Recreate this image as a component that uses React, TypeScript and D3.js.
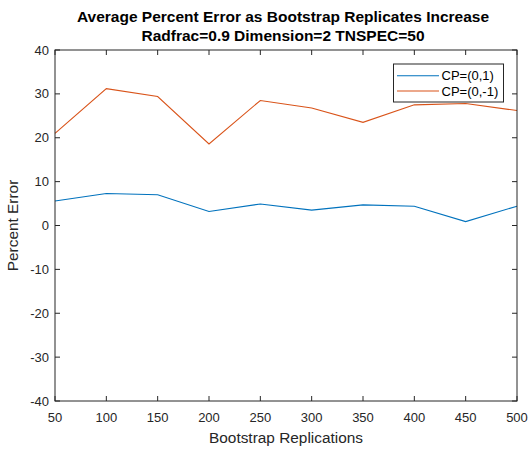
import React from "react";
import * as d3 from "d3";

const replications = [50, 100, 150, 200, 250, 300, 350, 400, 450, 500];
const cpPos = [5.6, 7.3, 7.0, 3.2, 4.9, 3.5, 4.7, 4.4, 0.9, 4.4];
const cpNeg = [21.0, 31.2, 29.4, 18.6, 28.5, 26.8, 23.5, 27.5, 27.8, 26.2];
const xTicks = [50, 100, 150, 200, 250, 300, 350, 400, 450, 500];
const yTicks = [-40, -30, -20, -10, 0, 10, 20, 30, 40];
const seriesNames = ["CP=(0,1)", "CP=(0,-1)"];
const seriesColors = ["#0072BD", "#D95319"];

const W = 531;
const H = 450;
const m = { left: 55, right: 517, top: 50, bottom: 401 };
const font = "'Liberation Sans', Arial, Helvetica, sans-serif";
const axisColor = "#262626";

export default function App() {
  const x = d3.scaleLinear().domain([50, 500]).range([m.left, m.right]);
  const y = d3.scaleLinear().domain([-40, 40]).range([m.bottom, m.top]);
  const line = d3
    .line<number>()
    .x((_, i) => x(replications[i]))
    .y((d) => y(d));
  const series = [cpPos, cpNeg];
  const tl = 5;
  const cx = (m.left + m.right) / 2;

  return (
    <svg
      width={W}
      height={H}
      style={{ position: "absolute", left: 0, top: 0, background: "#fff" }}
      fontFamily={font}
    >
      <rect x={0} y={0} width={W} height={H} fill="#fff" />
      {/* data lines */}
      {series.map((s, k) => (
        <path
          key={k}
          d={line(s) ?? ""}
          fill="none"
          stroke={seriesColors[k]}
          strokeWidth={1.1}
        />
      ))}
      {/* axes box with inward ticks on all four sides */}
      <rect
        x={m.left}
        y={m.top}
        width={m.right - m.left}
        height={m.bottom - m.top}
        fill="none"
        stroke={axisColor}
        strokeWidth={1}
      />
      {xTicks.map((t) => (
        <g key={"x" + t}>
          <line x1={x(t)} x2={x(t)} y1={m.bottom} y2={m.bottom - tl} stroke={axisColor} />
          <line x1={x(t)} x2={x(t)} y1={m.top} y2={m.top + tl} stroke={axisColor} />
          <text
            x={x(t)}
            y={m.bottom + 21}
            textAnchor="middle"
            fontSize={13}
            fill={axisColor}
          >
            {t}
          </text>
        </g>
      ))}
      {yTicks.map((t) => (
        <g key={"y" + t}>
          <line x1={m.left} x2={m.left + tl} y1={y(t)} y2={y(t)} stroke={axisColor} />
          <line x1={m.right} x2={m.right - tl} y1={y(t)} y2={y(t)} stroke={axisColor} />
          <text
            x={m.left - 6}
            y={y(t) + 4.5}
            textAnchor="end"
            fontSize={13}
            fill={axisColor}
          >
            {t}
          </text>
        </g>
      ))}
      {/* axis labels */}
      <text x={cx} y={443} textAnchor="middle" fontSize={15.4} fill={axisColor}>
        Bootstrap Replications
      </text>
      <text
        transform={`translate(18,${(m.top + m.bottom) / 2}) rotate(-90)`}
        textAnchor="middle"
        fontSize={15.4}
        fill={axisColor}
      >
        Percent Error
      </text>
      {/* title */}
      <text x={283} y={22} textAnchor="middle" fontSize={15.5} fontWeight="bold" fill="#000">
        Average Percent Error as Bootstrap Replicates Increase
      </text>
      <text x={283} y={41} textAnchor="middle" fontSize={15.5} fontWeight="bold" fill="#000">
        Radfrac=0.9 Dimension=2 TNSPEC=50
      </text>
      {/* legend */}
      <g>
        <rect x={393.5} y={64} width={110} height={38} fill="#fff" stroke={axisColor} strokeWidth={1} />
        {seriesNames.map((n, k) => (
          <g key={n}>
            <line
              x1={397}
              x2={439}
              y1={75.7 + k * 15.3}
              y2={75.7 + k * 15.3}
              stroke={seriesColors[k]}
              strokeWidth={1.1}
            />
            <text x={441.5} y={80.2 + k * 15.3} fontSize={13} fill="#000">
              {n}
            </text>
          </g>
        ))}
      </g>
    </svg>
  );
}
